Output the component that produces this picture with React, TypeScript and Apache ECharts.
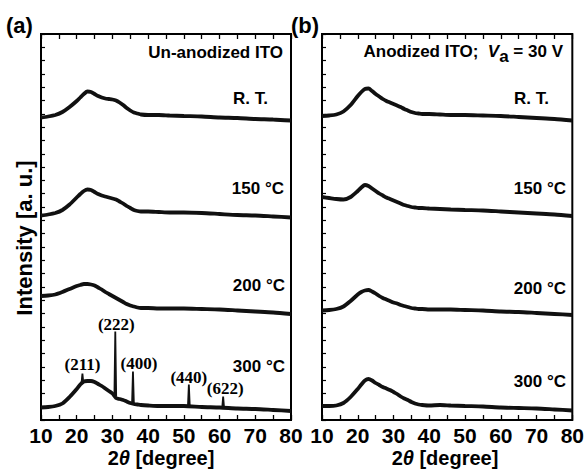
import React, { useEffect, useRef } from "react";
import * as echarts from "echarts";

// 2θ grid (degrees)
const X = [10, 12, 14, 16, 18, 20, 21, 22, 23, 24, 25, 26, 27, 28, 29, 30, 31, 32, 33, 34, 35, 36, 37, 38, 40, 43, 46, 50, 55, 60, 65, 70, 75, 80];

// Panel (a) Un-anodized ITO (offset intensities, a.u.)
const aRT = [302.5, 303.5, 305, 308, 313, 319, 322.5, 326, 328.5, 328, 326, 324, 322.5, 321.5, 321, 320.5, 319.5, 317.5, 315, 312, 309.5, 307.5, 306.5, 305.5, 305, 305, 304.5, 304, 303.5, 302.5, 302, 301, 300.5, 299.5];
const a150 = [204.5, 205.5, 207, 210, 215.5, 222.5, 226, 229, 230.5, 230, 228, 226, 224.5, 223.5, 222.5, 221.5, 220.5, 218.5, 216.5, 214, 212, 210, 209, 208.5, 208.5, 208, 207.5, 207.5, 207, 206, 205, 204.5, 203.5, 202.5];
const a200 = [124, 124.5, 125.5, 128, 131, 134, 135, 136, 136, 135.5, 134.5, 132.5, 130.5, 128, 126, 124, 122, 120, 118, 116, 114.5, 113.5, 112.5, 112, 112, 111.5, 111.5, 111.5, 111, 110.5, 109.5, 108.5, 107.5, 106];
const a300 = [12.5, 13, 14, 16.5, 23, 31, 35.5, 38.5, 39, 39, 38, 36, 34, 31.5, 29, 26.5, 22, 21, 20, 18.5, 17, 16, 15.5, 15, 14.5, 14, 14, 14, 13, 12.5, 11.5, 11, 10, 9];

// Diffraction peaks of the 300 °C un-anodized film
const peakHKL = ["(211)", "(222)", "(400)", "(440)", "(622)"];
const peakX = [21.6, 30.8, 35.75, 51.4, 61.0];
const peakTop = [46.5, 88.5, 48.5, 35.5, 23.5];
const peakBase = [37, 24, 16.5, 14, 12.5];

// Panel (b) Anodized ITO, Va = 30 V
const bRT = [304, 304.5, 305.5, 308.5, 315, 324, 328, 331, 331.5, 329, 326, 323.5, 321, 319, 317.5, 316, 314.5, 313, 311, 309.5, 308, 307, 306.5, 306, 306, 305.5, 305, 305, 304.5, 304, 303, 302, 301, 299.5];
const b150 = [223, 222, 221, 220.5, 223, 229, 232.5, 235, 234, 231.5, 229, 226.5, 224.5, 222.5, 221, 219.5, 218, 216.5, 215, 214, 213, 212.5, 212, 212, 211.5, 211, 210.5, 210, 209.5, 208.5, 207.5, 206.5, 205.5, 204];
const b200 = [109.5, 110, 111, 113.5, 119, 125.5, 128, 129.5, 130, 128.5, 126.5, 124, 122, 120.5, 119, 117.5, 116.5, 115, 114, 113, 112, 111.5, 111, 111, 110.5, 110.5, 110.5, 110, 109.5, 108.5, 108, 107, 106, 105];
const b300 = [14, 14, 14.5, 17, 23, 31, 35.5, 39.5, 41, 39.5, 37, 35, 33, 31.5, 30, 28, 26, 23.5, 21.5, 20, 18, 16.5, 15.5, 15, 14.5, 15, 14.5, 14, 13.5, 12.5, 12, 11.5, 10.5, 9.5];

const xTicks = [10, 20, 30, 40, 50, 60, 70, 80];
const tempLabels = ["R. T.", "150 °C", "200 °C", "300 °C"];

const SANS = "'Liberation Sans', Arial, Helvetica, sans-serif";
const SERIF = "'Liberation Serif', 'Times New Roman', serif";

export default function App() {
  const ref = useRef<HTMLDivElement>(null);
  useEffect(() => {
    if (!ref.current) return;
    const chart = echarts.init(ref.current, null, { renderer: "svg" });

    const grids = [
      { left: 41, top: 34, width: 250, height: 386 },
      { left: 322, top: 34, width: 251, height: 386 },
    ];
    const YMAX = 386;

    const xAxes: any[] = [];
    const yAxes: any[] = [];
    [0, 1].forEach((g) => {
      const common = {
        type: "value",
        gridIndex: g,
        min: xTicks[0],
        max: xTicks[xTicks.length - 1],
        interval: 10,
        axisLine: { show: false },
        splitLine: { show: false },
        axisTick: { show: true, inside: true, length: 5, lineStyle: { color: "#000", width: 1.3 } },
        minorTick: { show: true, splitNumber: 2, length: 5, lineStyle: { color: "#000", width: 1.3 } },
      };
      xAxes.push({
        ...common,
        position: "bottom",
        axisLabel: {
          show: true,
          margin: 5,
          color: "#000",
          fontSize: 21,
          fontWeight: "bold",
          fontFamily: SANS,
          showMinLabel: true,
          showMaxLabel: true,
        },
      });
      xAxes.push({ ...common, position: "top", axisLabel: { show: false } });
      yAxes.push({
        type: "value",
        gridIndex: g,
        min: 0,
        max: YMAX,
        interval: YMAX / 29,
        axisLine: { show: false },
        splitLine: { show: false },
        axisLabel: { show: false },
        axisTick: { show: true, inside: true, length: 4, lineStyle: { color: "#000", width: 1.2 } },
      });
    });

    const curve = (ys: number[], xi: number, yi: number) => ({
      type: "line",
      xAxisIndex: xi,
      yAxisIndex: yi,
      data: X.map((x, i) => [x, ys[i]]),
      showSymbol: false,
      smooth: 0.25,
      lineStyle: { color: "#111", width: 3.8 },
      silent: true,
    });

    const labelShift = [
      { dx: 0, dist: 1 },
      { dx: 1, dist: -1 },
      { dx: 6, dist: 0 },
      { dx: 0, dist: -1 },
      { dx: 2, dist: 0 },
    ];

    const peakSeries = peakX.map((px, i) => ({
      type: "line",
      xAxisIndex: 0,
      yAxisIndex: 0,
      showSymbol: true,
      showAllSymbol: true,
      symbol: "circle",
      symbolSize: 0,
      lineStyle: { color: "#111", width: 1.8 },
      label: { show: false },
      data: [
        [px - 0.25, peakBase[i]],
        {
          value: [px, peakTop[i]],
          label: {
            show: true,
            formatter: peakHKL[i],
            position: "top",
            distance: labelShift[i].dist,
            offset: [labelShift[i].dx, 0],
            color: "#000",
            fontSize: 17,
            fontWeight: "bold",
            fontFamily: SERIF,
          },
        },
        [px + 0.25, peakBase[i]],
      ],
      silent: true,
    }));

    const txt = (text: string, x: number, y: number, size: number, align = "right", extra: any = {}) => ({
      type: "text",
      x,
      y,
      silent: true,
      style: {
        text,
        fill: "#000",
        fontSize: size,
        fontWeight: "bold",
        fontFamily: SANS,
        align,
        textAlign: align,
        verticalAlign: "middle",
        textVerticalAlign: "middle",
        ...extra,
      },
    });

    const aPos = [
      [268, 98],
      [284, 188],
      [285, 285],
      [285, 366],
    ];
    const bPos = [
      [549, 98],
      [566, 188],
      [566, 288],
      [566, 381],
    ];

    const thetaRich = {
      i: { fontStyle: "italic", fontWeight: "bold", fontSize: 20, fontFamily: SANS, fill: "#000" },
      n: { fontWeight: "bold", fontSize: 20, fontFamily: SANS, fill: "#000" },
    };

    const graphic: any[] = [
      txt("(a)", 6, 25, 22, "left"),
      txt("(b)", 291, 25, 22, "left"),
      txt("Un-anodized ITO", 283, 52, 17),
      {
        type: "text",
        x: 563,
        y: 53,
        silent: true,
        style: {
          text: "{n|Anodized ITO;  }{v|V}{s|a}{n| = 30 V}",
          align: "right",
          textAlign: "right",
          verticalAlign: "middle",
          textVerticalAlign: "middle",
          fill: "#000",
          fontSize: 17,
          fontWeight: "bold",
          fontFamily: SANS,
          rich: {
            n: { fontSize: 17, fontWeight: "bold", fontFamily: SANS, fill: "#000", verticalAlign: "top", lineHeight: 20 },
            v: { fontSize: 17, fontWeight: "bold", fontStyle: "italic", fontFamily: SANS, fill: "#000", verticalAlign: "top", lineHeight: 20 },
            s: { fontSize: 17, fontWeight: "bold", fontFamily: SANS, fill: "#000", verticalAlign: "top", lineHeight: 20, padding: [5, 0, 0, 0] },
          },
        },
      },
      ...tempLabels.map((t, i) => txt(t, aPos[i][0], aPos[i][1], 17)),
      ...tempLabels.map((t, i) => txt(t, bPos[i][0], bPos[i][1], 17)),
      {
        type: "text",
        x: 161,
        y: 458,
        silent: true,
        style: {
          text: "{n|2}{i|θ}{n| [degree]}",
          align: "center",
          textAlign: "center",
          verticalAlign: "middle",
          textVerticalAlign: "middle",
          fontSize: 20,
          fontWeight: "bold",
          fontFamily: SANS,
          fill: "#000",
          rich: thetaRich,
        },
      },
      {
        type: "text",
        x: 445,
        y: 458,
        silent: true,
        style: {
          text: "{n|2}{i|θ}{n| [degree]}",
          align: "center",
          textAlign: "center",
          verticalAlign: "middle",
          textVerticalAlign: "middle",
          fontSize: 20,
          fontWeight: "bold",
          fontFamily: SANS,
          fill: "#000",
          rich: thetaRich,
        },
      },
      {
        type: "text",
        x: 24,
        y: 238,
        rotation: Math.PI / 2,
        silent: true,
        style: {
          text: "Intensity [a. u.]",
          align: "center",
          textAlign: "center",
          verticalAlign: "middle",
          textVerticalAlign: "middle",
          fontSize: 22,
          fontWeight: "bold",
          fontFamily: SANS,
          fill: "#000",
        },
      },
    ];

    chart.setOption({
      animation: false,
      backgroundColor: "#fff",
      grid: grids.map((g) => ({ ...g, show: true, borderColor: "#000", borderWidth: 2, backgroundColor: "transparent" })),
      xAxis: xAxes,
      yAxis: yAxes,
      series: [
        curve(aRT, 0, 0),
        curve(a150, 0, 0),
        curve(a200, 0, 0),
        curve(a300, 0, 0),
        ...peakSeries,
        curve(bRT, 2, 1),
        curve(b150, 2, 1),
        curve(b200, 2, 1),
        curve(b300, 2, 1),
      ],
      graphic,
    });

    return () => chart.dispose();
  }, []);

  return (
    <div
      ref={ref}
      style={{ position: "fixed", left: 0, top: 0, width: 587, height: 469, background: "#fff" }}
    />
  );
}
